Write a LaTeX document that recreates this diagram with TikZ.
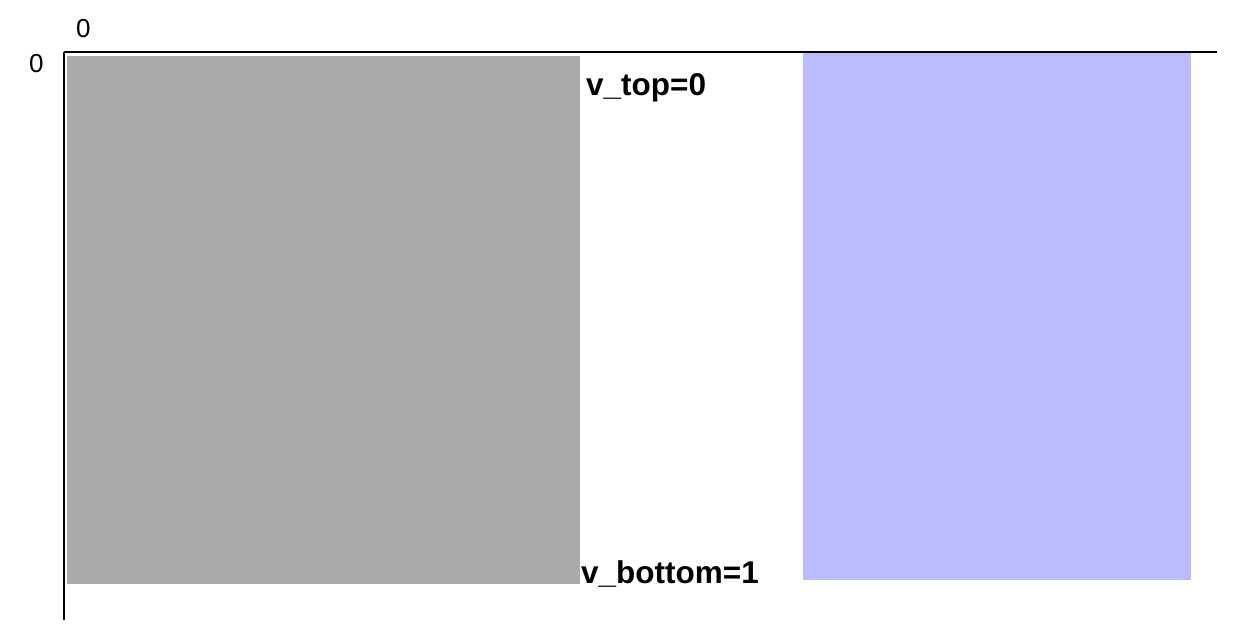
\documentclass[tikz,border=0pt]{standalone}
\usepackage{fontspec}
\setmainfont{Liberation Sans}
\definecolor{grayfill}{HTML}{AAAAAA}
\definecolor{bluefill}{HTML}{BBBBFF}
\begin{document}
\begin{tikzpicture}[x=1pt,y=-1pt,
  axis/.style={draw=black,line width=2pt},
  ticklabel/.style={inner sep=0pt,anchor=base west,font=\fontsize{26}{26}\selectfont},
  vlabel/.style={inner sep=0pt,anchor=base west,font=\fontsize{31.5}{31.5}\selectfont\bfseries}]
\useasboundingbox[fill=white] (0,0) rectangle (1247,637);
\fill[grayfill] (67,56) rectangle (580,584);
\fill[bluefill] (803,52) rectangle (1191,580);
\coordinate (origin) at (64,52);
\coordinate (xend) at (1217,52);
\coordinate (yend) at (64,620);
\draw[axis] (origin) -- (xend);
\draw[axis] (origin) -- (yend);
\node[ticklabel] (xzero) at (76,37) {0};
\node[ticklabel] (yzero) at (29,72) {0};
\node[vlabel] (vtop) at (586,95) {v\_top=0};
\node[vlabel] (vbottom) at (581,583) {v\_bottom=1};
\end{tikzpicture}
\end{document}
